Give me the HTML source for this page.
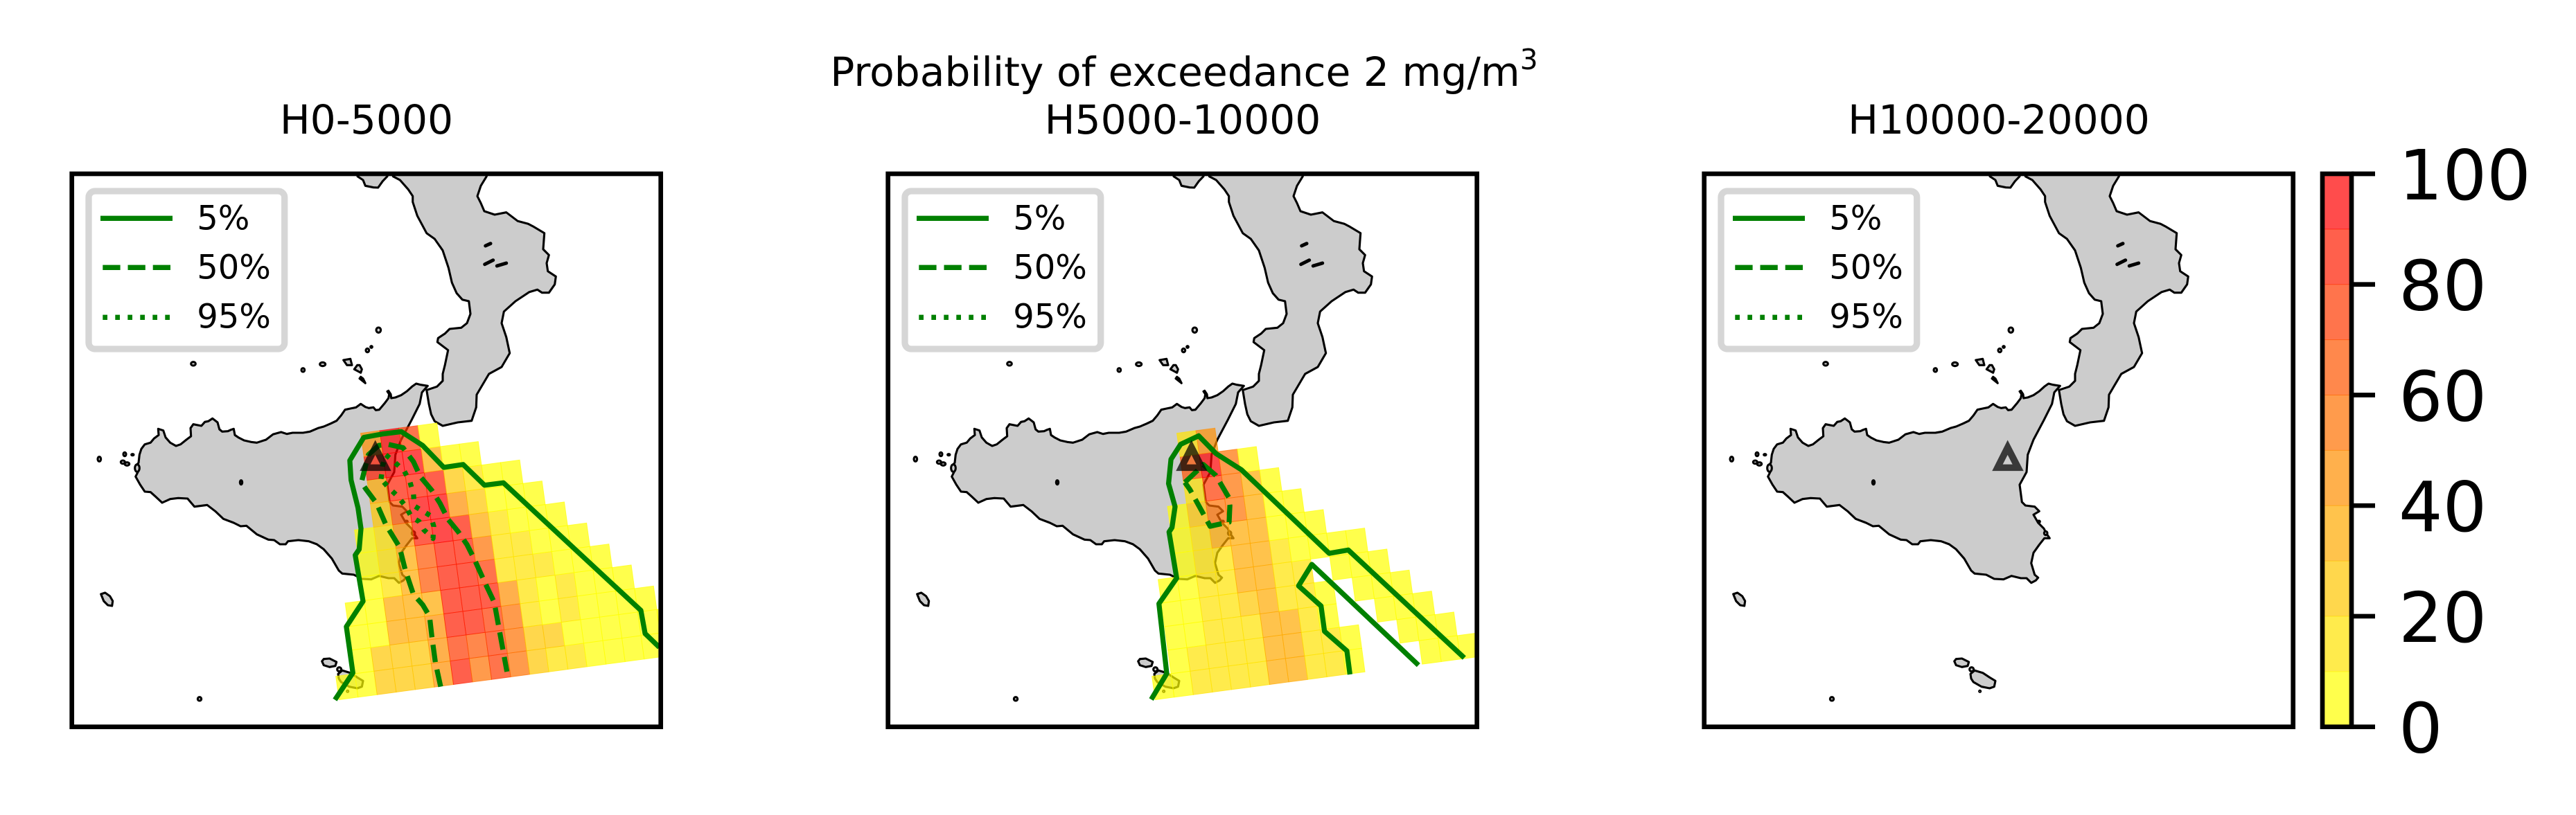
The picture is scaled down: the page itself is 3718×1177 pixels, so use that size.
<!DOCTYPE html>
<html lang="en">
<head>
<meta charset="utf-8">
<title>Probability of exceedance 2 mg/m3</title>
<style>
html,body{margin:0;padding:0;background:#fff;}
svg{display:block;font-family:"DejaVu Sans","Liberation Sans",sans-serif;fill:#000;}
.lg-line{fill:none;stroke:#008000;stroke-width:7.3;}
.lg-box{fill:rgba(255,255,255,.8);stroke:#d6d6d6;stroke-width:9.3;}
.lg-text{font-size:48px;}
.title{font-size:58.3px;text-anchor:middle;}
.frame{fill:none;stroke:#000;stroke-width:6.67;}
.tick{font-size:100px;}
</style>
</head>
<body>
<svg id="figure" xmlns="http://www.w3.org/2000/svg" width="3718" height="1177" viewBox="0 0 3718 1177">
<defs><clipPath id="axclip"><rect x="0" y="0" width="850" height="798.7"/></clipPath></defs>
<rect width="3718" height="1177" fill="#fff"/>
<text class="title" x="1709" y="124">Probability of exceedance 2 mg/m<tspan font-size="40.8" dy="-24">3</tspan></text>
<text class="title" x="529" y="193">H0-5000</text>
<text class="title" x="1707" y="193">H5000-10000</text>
<text class="title" x="2885" y="193">H10000-20000</text>

<g id="panel-0" transform="translate(103.7,251)">
<g class="plot" clip-path="url(#axclip)"></g>
<rect class="frame" width="850" height="798.7"/>
<g>
<rect class="lg-box" x="24.3" y="25" width="282.7" height="228" rx="9"/>
<line class="lg-line" x1="41.3" x2="145.3" y1="64.3" y2="64.3"/>
<line class="lg-line" x1="44.6" x2="142.3" y1="135.3" y2="135.3" stroke-dasharray="25.3 10.9"/>
<line class="lg-line" x1="44.6" x2="142.3" y1="207.3" y2="207.3" stroke-dasharray="6.7 11.3"/>
<text class="lg-text" x="180.5" y="80.7">5%</text>
<text class="lg-text" x="180.5" y="151.7">50%</text>
<text class="lg-text" x="180.5" y="222.7">95%</text>
</g>
</g>

<g id="panel-1" transform="translate(1281.7,251)">
<g class="plot" clip-path="url(#axclip)"></g>
<rect class="frame" width="850" height="798.7"/>
<g>
<rect class="lg-box" x="24.3" y="25" width="282.7" height="228" rx="9"/>
<line class="lg-line" x1="41.3" x2="145.3" y1="64.3" y2="64.3"/>
<line class="lg-line" x1="44.6" x2="142.3" y1="135.3" y2="135.3" stroke-dasharray="25.3 10.9"/>
<line class="lg-line" x1="44.6" x2="142.3" y1="207.3" y2="207.3" stroke-dasharray="6.7 11.3"/>
<text class="lg-text" x="180.5" y="80.7">5%</text>
<text class="lg-text" x="180.5" y="151.7">50%</text>
<text class="lg-text" x="180.5" y="222.7">95%</text>
</g>
</g>

<g id="panel-2" transform="translate(2459.7,251)">
<g class="plot" clip-path="url(#axclip)"></g>
<rect class="frame" width="850" height="798.7"/>
<g>
<rect class="lg-box" x="24.3" y="25" width="282.7" height="228" rx="9"/>
<line class="lg-line" x1="41.3" x2="145.3" y1="64.3" y2="64.3"/>
<line class="lg-line" x1="44.6" x2="142.3" y1="135.3" y2="135.3" stroke-dasharray="25.3 10.9"/>
<line class="lg-line" x1="44.6" x2="142.3" y1="207.3" y2="207.3" stroke-dasharray="6.7 11.3"/>
<text class="lg-text" x="180.5" y="80.7">5%</text>
<text class="lg-text" x="180.5" y="151.7">50%</text>
<text class="lg-text" x="180.5" y="222.7">95%</text>
</g>
</g>

<g id="colorbar"></g>
</svg>

<script>
const n = null;
/* Exceedance probability (%) per grid cell; rows run south to north, columns west to east */
const h0Values = [
[5,5,25,25,25,45,85,55,75,55,25,15,15,5,5,5,5,5],
[n,5,25,25,25,45,75,65,75,55,25,25,5,5,5,5,5,5],
[n,5,5,35,35,45,85,85,75,55,15,5,15,5,5,5,5],
[n,5,5,35,35,35,85,85,85,45,15,5,15,5,5,5],
[n,n,5,15,35,65,85,85,75,15,15,15,5,5,5],
[n,n,5,15,35,65,85,85,55,15,15,5,5,5],
[n,n,5,15,45,85,95,85,35,15,5,5,5],
[n,n,n,25,65,95,95,45,25,5,5,5],
[n,n,n,35,85,85,85,25,15,5,5],
[n,n,n,85,95,95,35,5,5],
[n,n,n,45,95,75,5]
];
const h5000Values = [
[5,5,15,15,15,15,35,35,15,15,5,n,n,n,5,5,5],
[n,5,15,15,15,15,35,35,15,15,5,n,n,5,5,5],
[n,5,5,15,15,15,35,35,15,5,n,n,5,5,5],
[n,5,5,15,15,25,35,15,15,5,n,5,5,5],
[n,5,5,15,15,35,35,15,15,n,5,5,5],
[n,n,5,15,15,35,35,15,5,5,5,5],
[n,n,5,15,35,35,35,5,5,5],
[n,n,5,25,55,55,35,5,5],
[n,n,n,15,75,55,35,5],
[n,n,n,65,95,55,5],
[n,n,n,15,45]
];
const h10000Values = [];

/* Contour lines as [lon, lat] vertices */
const h0Contour5 = [[14.635,35.684],[14.832,35.905],[14.761,36.284],[14.944,36.492],[14.858,36.871],[14.901,36.919],[14.921,37.089],[14.888,37.259],[14.812,37.487],[14.799,37.648],[14.951,37.837],[15.154,37.865],[15.364,37.884],[15.597,37.771],[15.830,37.591],[16.041,37.615],[16.276,37.445],[16.484,37.464],[17.991,36.417],[18.037,36.227],[18.194,36.114]];
const h0Contour50 = [[15.795,35.792],[15.737,35.990],[15.699,36.199],[15.673,36.369],[15.597,36.464],[15.496,36.549],[15.407,36.748],[15.344,36.937],[15.197,37.117],[15.091,37.297],[14.977,37.411],[14.926,37.468],[15.002,37.695],[15.116,37.771],[15.217,37.780],[15.382,37.752],[15.496,37.638],[15.572,37.515],[15.699,37.401],[15.787,37.297],[15.876,37.165],[15.990,37.061],[16.084,36.956],[16.167,36.833],[16.281,36.644],[16.383,36.483],[16.522,35.915]];
const h0Contour95 = [[15.141,37.496],[15.159,37.604],[15.192,37.695],[15.298,37.629],[15.395,37.562],[15.458,37.472],[15.496,37.373],[15.509,37.273],[15.686,37.193],[15.719,37.108],[15.711,37.008],[15.610,37.079],[15.559,37.146],[15.476,37.184],[15.407,37.275],[15.324,37.354],[15.225,37.424],[15.141,37.496]];
const h5000Contour5a = [[14.637,35.687],[14.807,35.899],[14.721,36.473],[14.916,36.682],[14.832,37.061],[14.865,37.098],[14.898,37.269],[14.827,37.458],[14.853,37.657],[14.959,37.780],[15.157,37.850],[15.347,37.704],[15.625,37.572],[16.588,36.886],[16.798,36.913],[18.070,36.028]];
const h5000Contour5b = [[16.816,35.892],[16.783,36.085],[16.537,36.246],[16.499,36.454],[16.253,36.619],[16.398,36.795],[17.568,35.968]];
const h5000Contour50 = [[15.005,37.468],[15.144,37.566],[15.207,37.615],[15.346,37.525],[15.486,37.345],[15.499,37.278],[15.491,37.142],[15.283,37.108],[15.060,37.411],[15.005,37.468]];

/* Volcano vent position [lon, lat] */
const ventPosition = [15.078, 37.653];

/* Colorbar */
const colorLevels = [0,10,20,30,40,50,60,70,80,90];
const colorbarTicks = [0,20,40,60,80,100];

/* Axis functions: map extent in degrees onto the 850 x 798.7 frame */
const lonMin = 11.75, lonPerPx = 1/131.6, latMax = 40, latPerPx = 1/176;
function xScale(lon){ return (lon - lonMin) / lonPerPx; }
function yScale(lat){ return (latMax - lat) / latPerPx; }
/* Rotated dispersion-model grid in degrees */
const gridLon0 = 14.680, gridLat0 = 35.684, colDLon = 0.2092, colDLat = 0.02085, rowDLon = -0.0355, rowDLat = 0.1932;
function gridCorner(c, r){
  return [xScale(gridLon0 + c*colDLon + r*rowDLon), yScale(gridLat0 + c*colDLat + r*rowDLat)];
}
function bandColor(v){
  const i = Math.min(9, Math.floor(v/10));
  const g = Math.round(255*(1 - i/9));
  return 'rgb(255,' + g + ',0)';
}

function crop(pts, ox, oy){ return pts.map(function(p){ return [p[0]/3+ox, p[1]/3+oy]; }); }
const sicily = crop([[1330,52],[1300,47],[1280,42],[1262,55],[1240,75],[1215,92],[1190,102],[1172,105],[1170,88],[1160,73],[1155,76],[1163,88],[1160,105],[1145,125],[1120,155],[1105,157],[1095,145],[1075,148],[1060,143],[1040,130],[1020,145],[995,150],[972,155],[955,180],[935,203],[910,215],[880,228],[855,235],[820,250],[790,255],[745,255],[720,260],[695,252],[660,262],[630,285],[590,298],[565,295],[535,288],[510,275],[495,265],[490,238],[478,242],[465,248],[440,250],[428,240],[420,210],[398,193],[380,205],[365,208],[350,225],[315,218],[303,235],[305,270],[285,285],[260,305],[240,312],[215,298],[195,275],[185,245],[163,238],[165,265],[145,280],[130,298],[105,305],[90,325],[82,350],[78,385],[65,400],[75,425],[65,445],[85,480],[105,510],[130,512],[150,530],[180,558],[215,542],[250,538],[290,540],[320,575],[375,568],[410,595],[445,628],[490,645],[520,660],[545,658],[590,695],[640,718],[665,720],[690,738],[715,738],[725,725],[770,720],[815,725],[850,738],[880,760],[915,800],[945,852],[960,865],[1010,870],[1045,888],[1085,890],[1120,875],[1160,885],[1185,885],[1205,905],[1225,895],[1235,883],[1220,870],[1205,820],[1215,775],[1240,740],[1262,712],[1285,712],[1270,690],[1260,670],[1235,645],[1215,610],[1240,595],[1220,575],[1180,570],[1165,555],[1155,480],[1185,425],[1190,350],[1215,285],[1260,200],[1295,130],[1305,80]], 70.3, 289);
const calabria = crop([[130,20],[130,44],[160,60],[195,100],[215,130],[215,155],[235,215],[275,290],[310,315],[345,365],[370,440],[385,505],[405,550],[430,578],[458,585],[465,640],[450,680],[425,700],[375,705],[355,725],[325,745],[322,762],[368,797],[355,860],[345,900],[345,930],[320,955],[275,970],[285,1030],[295,1075],[310,1105],[345,1125],[410,1110],[470,1103],[490,1045],[492,990],[545,900],[600,870],[635,810],[620,740],[600,680],[610,630],[660,585],[720,545],[755,535],[775,548],[805,548],[830,512],[835,478],[800,455],[795,420],[805,385],[780,360],[785,290],[735,260],[715,250],[670,238],[640,215],[620,200],[570,210],[525,195],[510,160],[495,130],[510,85],[535,44],[535,20]], 420.3, -11);
const cilento = crop([[-24,20],[-24,44],[0,60],[10,85],[45,92],[65,93],[85,65],[105,44],[105,20]], 420.3, -11);
const gozo = crop([[782,315],[790,305],[815,303],[845,318],[840,335],[815,340],[790,332]], 100.3, 599);
const malta = crop([[852,370],[870,355],[905,365],[935,385],[960,400],[955,425],[935,432],[900,425],[865,405],[855,390]], 100.3, 599);
const pantelleria = [[42,607],[48,605],[55,610],[59,617],[58,624],[52,623],[46,617]];
const salina = crop([[875,240],[905,235],[912,262],[890,262]], 100.3, 189);
const vulcano1 = crop([[935,262],[922,280],[950,295],[955,280],[945,262]], 100.3, 189);
const vulcano2 = crop([[945,320],[970,340],[960,320],[950,313]], 100.3, 189);
const landParts = [sicily, calabria, cilento, gozo, malta, pantelleria, salina, vulcano1, vulcano2];
/* small islands: cx, cy, rx, ry in crop px, with crop offset */
const islets = [
 [1027,110,10,11,100.3,189],[979,198,7,8,100.3,189],[996,183,4,4,100.3,189],[785,258,12,8,100.3,189],[700,283,7,8,100.3,189],[225,256,10,8,100.3,189],
 [252,478,8,8,100.3,599],[857,350,9,9,100.3,599],[893,445,3,3,100.3,599],
 [-92,369,7,10,70.3,289],[18,348,6,8,70.3,289],[52,350,5,3,70.3,289],[10,382,9,7,70.3,289],[28,390,10,7,70.3,289],[522,470,5,9,70.3,289],[72,408,10,16,70.3,289],[1238,640,5,4,70.3,289],[1268,690,7,8,70.3,289]
];
const lakes = [
 crop([[530,345],[552,335]], 420.3, -11),
 crop([[527,425],[563,407]], 420.3, -11),
 crop([[580,432],[620,420]], 420.3, -11)
];

const NS = 'http://www.w3.org/2000/svg';
function make(tag, attrs, parent){
  const el = document.createElementNS(NS, tag);
  for (const k in attrs) el.setAttribute(k, attrs[k]);
  parent.appendChild(el);
  return el;
}
function ptsStr(p){ return p.map(function(q){ return q[0].toFixed(1)+','+q[1].toFixed(1); }).join(' '); }

function drawLand(g){
  landParts.forEach(function(p){
    const el = make('polygon', {points: ptsStr(p), fill:'#cccccc', stroke:'#000', 'stroke-width':3.1, 'stroke-linejoin':'round'}, g);
    
    
  });
  islets.forEach(function(d){
    const el = make('ellipse', {cx:d[0]/3+d[4], cy:d[1]/3+d[5], rx:d[2]/3, ry:d[3]/3, fill:'#cccccc', stroke:'#000', 'stroke-width':3.1}, g);
    
    
  });
  lakes.forEach(function(p){
    const el = make('polyline', {points: ptsStr(p), fill:'none', stroke:'#000', 'stroke-width':5, 'stroke-linecap':'round'}, g);
    
    
  });
}
function drawHeat(g, rows){
  rows.forEach(function(row, r){
    row.forEach(function(v, c){
      if (v === null) return;
      const col = bandColor(v);
      const quad = [gridCorner(c,r), gridCorner(c+1,r), gridCorner(c+1,r+1), gridCorner(c,r+1)];
      const el = make('polygon', {points: ptsStr(quad), fill:col, 'fill-opacity':0.7, stroke:col, 'stroke-opacity':0.7, 'stroke-width':0.9}, g);
      
      
    });
  });
}
function drawContour(g, line, dash, name){
  const p = line.map(function(q){ return [xScale(q[0]), yScale(q[1])]; });
  const attrs = {points: ptsStr(p), fill:'none', stroke:'#008000', 'stroke-width':7.3, 'stroke-linejoin':'round'};
  if (dash) attrs['stroke-dasharray'] = dash;
  const el = make('polyline', attrs, g);
  
  
}
function drawVent(g){
  const x = xScale(ventPosition[0]), y = yScale(ventPosition[1]);
  const d = 'M'+x+' '+(y-28.6)+'L'+(x+23)+' '+(y+16.1)+'L'+(x-22.4)+' '+(y+16.1)+'Z'+
            'M'+x+' '+(y-7.2)+'L'+(x+7)+' '+(y+6.6)+'L'+(x-7)+' '+(y+6.6)+'Z';
  const el = make('path', {d:d, fill:'#000', 'fill-opacity':0.72, 'fill-rule':'evenodd'}, g);
  
  
}

const DASHED = '25.3 10.9', DOTTED = '6.7 11.3';
const panelSeries = [
 {values:h0Values, lines:[[h0Contour5,null,'contour-5-percent'],[h0Contour50,DASHED,'contour-50-percent'],[h0Contour95,DOTTED,'contour-95-percent']]},
 {values:h5000Values, lines:[[h5000Contour5a,null,'contour-5-percent'],[h5000Contour5b,null,'contour-5-percent-inner'],[h5000Contour50,DASHED,'contour-50-percent']]},
 {values:h10000Values, lines:[]}
];
panelSeries.forEach(function(s, i){
  const plot = document.querySelector('#panel-'+i+' .plot');
  drawLand(plot);
  drawHeat(plot, s.values);
  s.lines.forEach(function(l){ drawContour(plot, l[0], l[1], l[2]); });
  drawVent(plot);
});

/* Colorbar */
(function(){
  const cb = document.getElementById('colorbar');
  const left = 3352, right = 3394, top = 251, bottom = 1049.7;
  const cbY = function(v){ return bottom - (v/100)*(bottom-top); };
  colorLevels.forEach(function(lv){
    const el = make('rect', {x:left, y:cbY(lv+10), width:right-left, height:cbY(lv)-cbY(lv+10), fill:bandColor(lv), 'fill-opacity':0.7}, cb);
    
    
    const e2 = make('line', {x1:left, x2:right, y1:cbY(lv+10), y2:cbY(lv+10), stroke:bandColor(lv), 'stroke-opacity':0.7, 'stroke-width':1}, cb);
    
    
  });
  const fr = make('rect', {x:left, y:top, width:right-left, height:bottom-top, fill:'none', stroke:'#000', 'stroke-width':6.67}, cb);
  
  
  colorbarTicks.forEach(function(t){
    const y = cbY(t);
    const tl = make('line', {x1:right, x2:3428, y1:y, y2:y, stroke:'#000', 'stroke-width':6.67}, cb);
    
    
    const tx = make('text', {x:3462, y:y+36.8, class:'tick'}, cb);
    tx.textContent = String(t);
    
    
  });
})();
</script>
</body>
</html>
